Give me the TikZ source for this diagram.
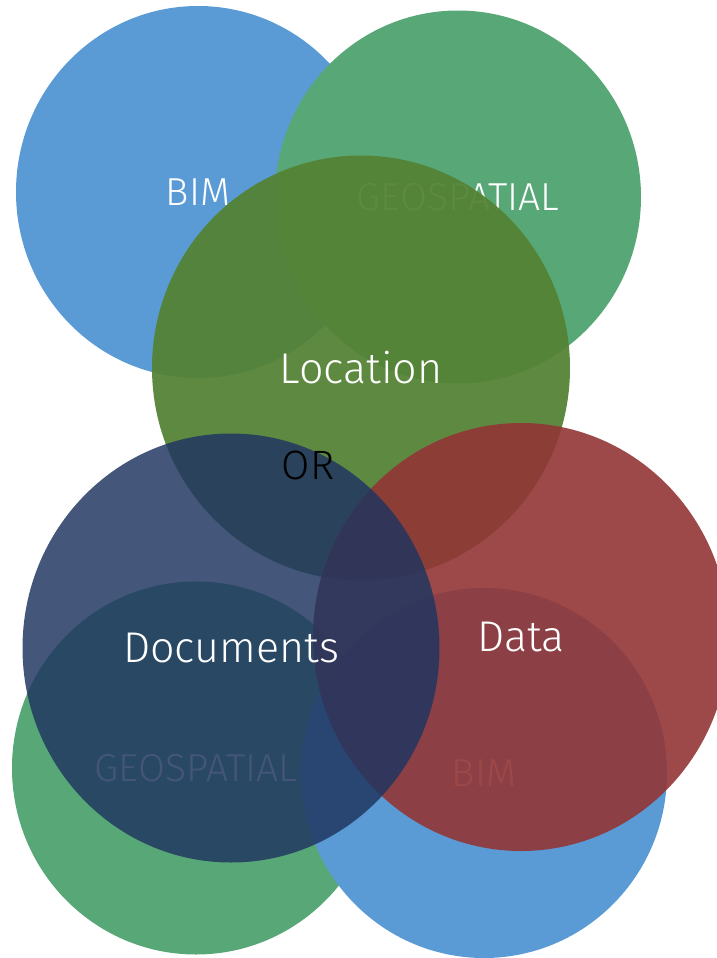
\documentclass[tikz,border=0pt]{standalone}
\usepackage{fontspec}
\setmainfont{Fira Sans}[UprightFont={* Light}]
\usetikzlibrary{shapes.geometric}

\definecolor{bimblue}{HTML}{5B9BD5}
\definecolor{geogreen}{HTML}{58A776}
\definecolor{locgreen}{HTML}{548235}
\definecolor{datared}{HTML}{923535}
\definecolor{docblue}{HTML}{203661}

\begin{document}
\begin{tikzpicture}[x=1pt, y=-1pt,
  bubble/.style={ellipse, inner sep=0pt, text=white, text opacity=1},
  smalltext/.style={font=\fontsize{39}{46}\selectfont},
  bigtext/.style={font=\fontsize{43}{52}\selectfont}]

\useasboundingbox (0,0) rectangle (717,958);
\clip (0,0) rectangle (717,958);

% Upper pair
\node[bubble, smalltext, fill=bimblue, minimum width=364pt, minimum height=372pt] (bimup) at (198,192) {BIM};
\node[bubble, smalltext, fill=geogreen, minimum width=366pt, minimum height=373pt] (geoup) at (458,197) {GEOSPATIAL};

% Location
\node[bubble, bigtext, fill=locgreen, fill opacity=0.94, minimum width=418pt, minimum height=425pt] (location) at (361,368) {Location};

% Lower pair
\node[bubble, smalltext, fill=geogreen, minimum width=368pt, minimum height=373pt] (geodown) at (196,768) {GEOSPATIAL};
\node[bubble, smalltext, fill=bimblue, minimum width=366pt, minimum height=370pt] (bimdown) at (484,773) {BIM};

% Data and Documents
\node[bubble, bigtext, fill=datared, fill opacity=0.9, minimum width=416pt, minimum height=428pt] (data) at (521,637) {Data};
\node[bubble, bigtext, fill=docblue, fill opacity=0.84, minimum width=417pt, minimum height=429pt] (documents) at (231,648) {Documents};

% OR
\node[font=\fontsize{41}{49}\selectfont, text=black] (orlabel) at (308,465) {OR};

\end{tikzpicture}
\end{document}
